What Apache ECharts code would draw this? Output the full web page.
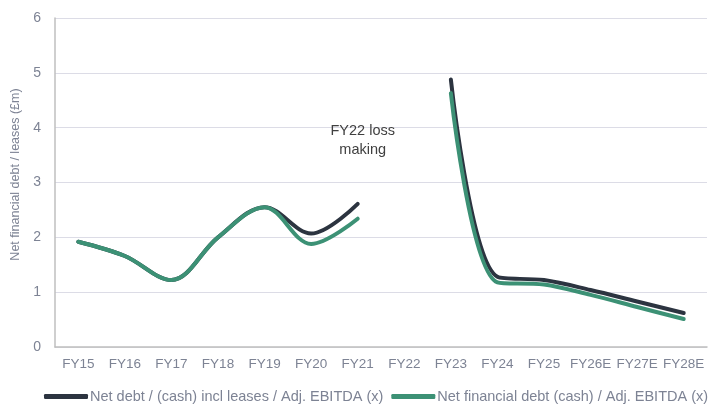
<!DOCTYPE html>
<html>
<head>
<meta charset="utf-8">
<script src="https://cdn.jsdelivr.net/npm/echarts@6/dist/echarts.min.js"></script>
<style>
  html, body { margin: 0; padding: 0; background: #fff; }
  #chart { width: 711px; height: 404px; }
</style>
</head>
<body>
<div id="chart"></div>
<script>
// Financial years (E = estimate)
const years = ['FY15', 'FY16', 'FY17', 'FY18', 'FY19', 'FY20', 'FY21', 'FY22', 'FY23', 'FY24', 'FY25', 'FY26E', 'FY27E', 'FY28E'];

// Leverage multiples; FY22 left empty (loss making year)
const netDebtInclLeases = [1.92, 1.66, 1.22, 2.00, 2.55, 2.07, 2.61, null, 4.88, 1.28, 1.22, 1.04, 0.83, 0.62];
const netFinancialDebt  = [1.92, 1.66, 1.22, 2.00, 2.55, 1.88, 2.34, null, 4.63, 1.18, 1.14, 0.95, 0.73, 0.51];

const seriesNames = ['Net debt / (cash) incl leases / Adj. EBITDA (x)', 'Net financial debt (cash) / Adj. EBITDA (x)'];
const noteText = 'FY22 loss\nmaking';
// note sits just right of FY21, above the gap
const noteAt = [6.2, 3.76];

const labelColor = '#7d8394';
const chart = echarts.init(document.getElementById('chart'));

chart.setOption({
  animation: false,
  textStyle: { fontFamily: 'Liberation Sans, Arial, sans-serif' },
  grid: { left: 55, right: 4, top: 18, bottom: 57, containLabel: false, outerBoundsMode: 'none' },
  legend: {
    bottom: 0,
    left: 44,
    width: 667,
    padding: 0,
    itemWidth: 44,
    itemHeight: 5,
    itemGap: 8,
    icon: 'roundRect',
    textStyle: { color: labelColor, fontSize: 14.5, padding: [0, 0, 0, -3] },
    data: seriesNames
  },
  xAxis: {
    type: 'category',
    data: years,
    boundaryGap: true,
    axisLine: { lineStyle: { color: '#bfbfbf', width: 1.5 } },
    axisTick: { show: false },
    axisLabel: { color: labelColor, fontSize: 13.5, margin: 10, interval: 0 }
  },
  yAxis: {
    type: 'value',
    min: 0,
    max: 6,
    interval: 1,
    name: 'Net financial debt / leases (£m)',
    nameLocation: 'middle',
    nameGap: 30,
    nameTextStyle: { color: labelColor, fontSize: 12.5, padding: [0, 0, 0, 16] },
    axisLine: { show: true, lineStyle: { color: '#bfbfbf', width: 1.5 } },
    axisTick: { show: false },
    axisLabel: { color: labelColor, fontSize: 14, margin: 14 },
    splitLine: { lineStyle: { color: '#dcdce6', width: 1 } }
  },
  series: [
    {
      name: seriesNames[0],
      type: 'line',
      data: netDebtInclLeases,
      smooth: 0.35,
      connectNulls: false,
      symbol: 'none',
      lineStyle: { color: '#2c3440', width: 4, cap: 'round' },
      itemStyle: { color: '#2c3440' },
      markPoint: {
        symbol: 'circle',
        symbolSize: 0,
        data: [{ coord: noteAt }],
        label: {
          show: true,
          formatter: noteText,
          color: '#404040',
          fontSize: 14.5,
          lineHeight: 19,
          align: 'center',
          verticalAlign: 'middle',
          offset: [5, 0]
        }
      }
    },
    {
      name: seriesNames[1],
      type: 'line',
      data: netFinancialDebt,
      smooth: 0.35,
      connectNulls: false,
      symbol: 'none',
      lineStyle: { color: '#3c9175', width: 4, cap: 'round' },
      itemStyle: { color: '#3c9175' }
    }
  ]
});
</script>
</body>
</html>
